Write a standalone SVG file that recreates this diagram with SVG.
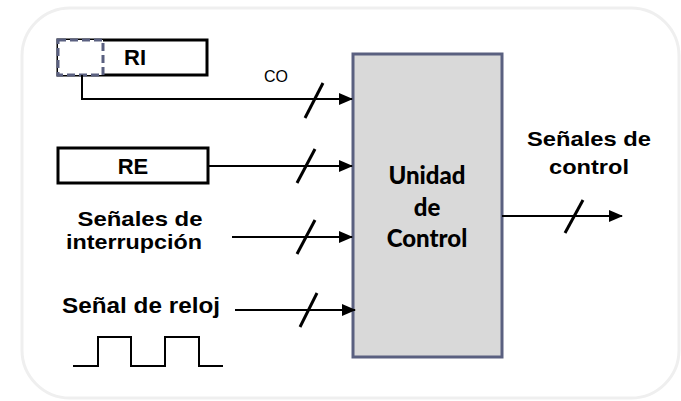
<svg xmlns="http://www.w3.org/2000/svg" width="681" height="401" viewBox="0 0 681 401">
<style>
.lbl{font-family:"Liberation Sans",Arial,sans-serif;font-weight:bold;font-size:22px;fill:#000}
.lbl2{font-family:"Liberation Sans",Arial,sans-serif;font-weight:bold;font-size:21px;fill:#000}
.reg{font-family:"Liberation Sans",Arial,sans-serif;font-size:16px;fill:#000}
.uc{font-family:Lato,"Open Sans",sans-serif;font-weight:900;font-size:24px;fill:#000}
.wire{stroke:#000;stroke-width:2;fill:none}
.slash{stroke:#000;stroke-width:3;fill:none}
.box{fill:#fff;stroke:#000;stroke-width:3}
</style>
<defs>
<marker id="arr" markerWidth="14" markerHeight="12" refX="13" refY="6" orient="auto" markerUnits="userSpaceOnUse">
<path d="M0,0 L14,6 L0,12 Z" fill="#000"/>
</marker>
</defs>
<rect x="22" y="8" width="657" height="390" rx="48" ry="48" fill="#fff" stroke="#efefef" stroke-width="3"/>
<g id="ri">
<rect class="box" x="58" y="40" width="149" height="35"/>
<rect x="58" y="40" width="45" height="35" fill="#fff" stroke="#5a6080" stroke-width="3" stroke-dasharray="8,4"/>
<text class="lbl" x="135" y="65" text-anchor="middle">RI</text>
</g>
<g id="re">
<rect class="box" x="58" y="148" width="150" height="35"/>
<text class="lbl" x="133" y="174" text-anchor="middle">RE</text>
</g>
<g id="uc">
<rect x="353" y="54" width="149" height="303" fill="#d9d9d9" stroke="#5a6080" stroke-width="3"/>
<text class="uc" x="427" y="184" text-anchor="middle">Unidad</text>
<text class="uc" x="427" y="216" text-anchor="middle">de</text>
<text class="uc" x="427" y="247" text-anchor="middle">Control</text>
</g>
<g id="int">
<text class="lbl2" x="140" y="226" text-anchor="middle" textLength="125" lengthAdjust="spacingAndGlyphs">Señales de</text>
<text class="lbl2" x="134" y="249" text-anchor="middle" textLength="136" lengthAdjust="spacingAndGlyphs">interrupción</text>
</g>
<g id="reloj">
<text class="lbl" x="62" y="313" textLength="158" lengthAdjust="spacingAndGlyphs">Señal de reloj</text>
<path class="wire" d="M73,366 H98 V337 H131 V366 H165 V337 H199 V366 H223"/>
</g>
<g id="out">
<text class="lbl2" x="589" y="146" text-anchor="middle" textLength="124" lengthAdjust="spacingAndGlyphs">Señales de</text>
<text class="lbl2" x="589" y="174" text-anchor="middle" textLength="80" lengthAdjust="spacingAndGlyphs">control</text>
</g>
<g id="connectors">
<path class="wire" d="M82,75 V99 H352" marker-end="url(#arr)"/>
<text class="reg" x="276" y="82" text-anchor="middle">CO</text>
<line class="slash" x1="305" y1="118" x2="323" y2="83"/>
<line class="wire" x1="208" y1="166" x2="352" y2="166" marker-end="url(#arr)"/>
<line class="slash" x1="297" y1="183" x2="315" y2="149"/>
<line class="wire" x1="232" y1="237" x2="352" y2="237" marker-end="url(#arr)"/>
<line class="slash" x1="297" y1="254" x2="315" y2="220"/>
<line class="wire" x1="235" y1="310" x2="355" y2="310" marker-end="url(#arr)"/>
<line class="slash" x1="300" y1="327" x2="317" y2="293"/>
<line class="wire" x1="502" y1="216" x2="622" y2="216" marker-end="url(#arr)"/>
<line class="slash" x1="565" y1="233" x2="583" y2="200"/>
</g>
</svg>
